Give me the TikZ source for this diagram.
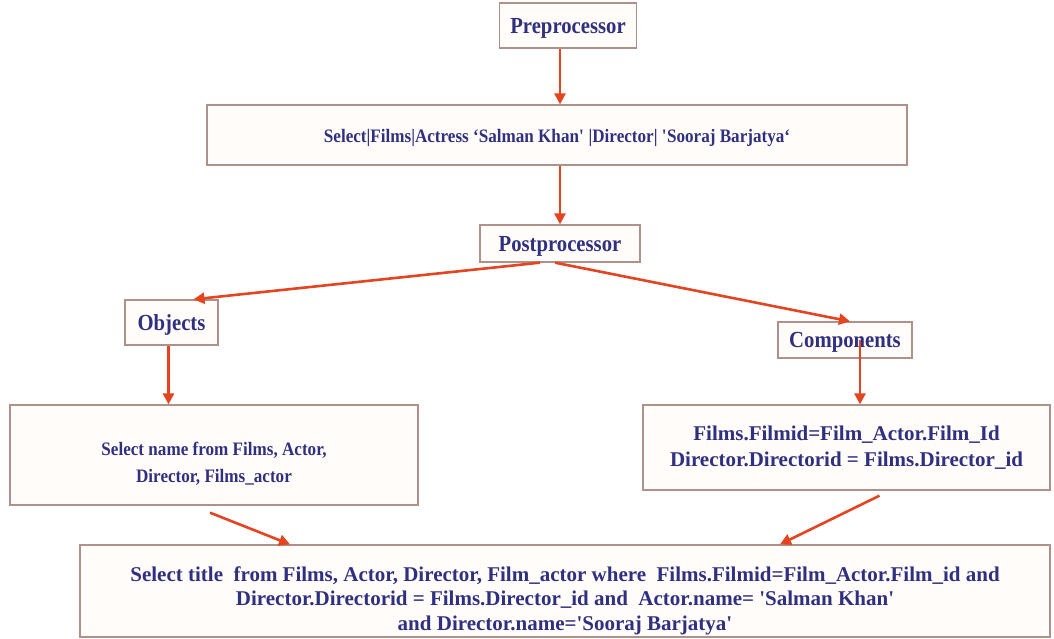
\documentclass[tikz,border=0pt]{standalone}
\usepackage{fontspec}
\setmainfont{Liberation Serif}[FakeStretch=0.9]
\newfontfamily\widefont{Liberation Serif}
\usetikzlibrary{arrows.meta}
\definecolor{txt}{RGB}{48,48,128}
\definecolor{edgec}{RGB}{175,145,140}
\definecolor{fillc}{RGB}{255,252,249}
\definecolor{arr}{RGB}{228,68,32}
\begin{document}
\begin{tikzpicture}[x=1pt,y=-1pt,
  box/.style={draw=edgec, fill=fillc, line width=1.3pt, inner sep=0pt, text=txt,
    font=\bfseries\fontsize{19}{27}\selectfont, align=center},
  widebox/.style={box, font=\widefont\bfseries\fontsize{21}{26}\selectfont},
  lab/.style={box, text depth=0pt, font=\bfseries\fontsize{23}{26}\selectfont},
  arrow/.style={draw=arr, line width=2.6pt, -{Triangle[length=11pt,width=11pt]}}]
\useasboundingbox (0,0) rectangle (1054,638);
\fill[white] (0,0) rectangle (1054,638);

\node[lab, minimum width=137pt, minimum height=45pt] (pre) at (568,25.5) {Preprocessor};
\node[box, minimum width=700pt, minimum height=60pt] (sel) at (557,135)
  {\rule{0pt}{19pt}Select|Films|Actress ‘Salman Khan\textquotesingle{} |Director| \textquotesingle Sooraj Barjatya‘};
\node[lab, minimum width=160pt, minimum height=37pt] (post) at (560,243.5) {Postprocessor};
\node[lab, minimum width=93pt, minimum height=45pt] (obj) at (171.5,322.5) {Objects};
\node[lab, minimum width=134pt, minimum height=36pt] (comp) at (845,340) {Components};
\node[box, minimum width=408pt, minimum height=100pt] (left) at (214,455)
  {\rule{0pt}{30pt}Select name from Films, Actor,\\ Director, Films\_actor};
\node[widebox, minimum width=407pt, minimum height=85pt] (right) at (846.5,447.5)
  {Films.Filmid=Film\_Actor.Film\_Id\\ Director.Directorid = Films.Director\_id};
\node[widebox, font=\widefont\bfseries\fontsize{21}{24.5}\selectfont, minimum width=970pt, minimum height=92pt] (bot) at (565,591)
  {\rule{0pt}{34pt}Select title\ \ from Films, Actor, Director, Film\_actor where\ \ Films.Filmid=Film\_Actor.Film\_id and\\
   Director.Directorid = Films.Director\_id and\ \ Actor.name= \textquotesingle Salman Khan\textquotesingle\\
   and Director.name=\textquotesingle Sooraj Barjatya\textquotesingle};

\draw[arrow] ([xshift=-8pt]pre.south) -- ([xshift=-8pt]pre.south |- sel.north);
\draw[arrow] ([xshift=3pt]sel.south) -- ([xshift=3pt]sel.south |- post.north);
\draw[arrow] ([xshift=-20pt]post.south) -- ([xshift=22pt]obj.north);
\draw[arrow] ([xshift=-5pt]post.south) -- ([xshift=5pt]comp.north);
\draw[arrow] ([xshift=-3pt]obj.south) -- ([xshift=-3pt]obj.south |- left.north);
\draw[arrow] ([xshift=15pt]comp.center) -- ([xshift=15pt]comp.center |- right.north);
\draw[arrow] ([shift={(-4,7)}]left.south) -- ([xshift=-275pt]bot.north);
\draw[arrow] ([shift={(33,5)}]right.south) -- ([xshift=215pt]bot.north);
\end{tikzpicture}
\end{document}
